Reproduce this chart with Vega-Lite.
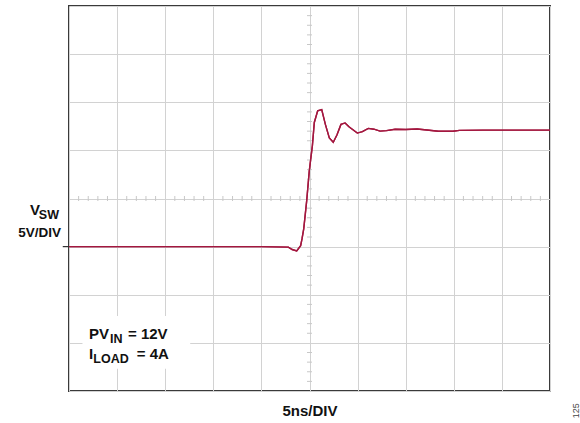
{
  "$schema": "https://vega.github.io/schema/vega-lite/v6.json",
  "width": 481,
  "height": 385,
  "autosize": {"type": "none"},
  "padding": {"left": 69, "top": 6, "right": 30, "bottom": 32},
  "background": "white",
  "config": {
    "view": {"stroke": "#3a3a3a", "strokeWidth": 2},
    "font": "Liberation Sans"
  },
  "datasets": {
    "wave": [
      {"t": 0, "v": 0}, {"t": 10, "v": 0}, {"t": 20, "v": 0}, {"t": 22.8, "v": -0.05},
      {"t": 23.2, "v": -0.3}, {"t": 23.67, "v": -0.45}, {"t": 24.08, "v": 0.1}, {"t": 24.22, "v": 0.8},
      {"t": 24.4, "v": 1.84}, {"t": 24.71, "v": 4.78}, {"t": 24.98, "v": 7.9}, {"t": 25.3, "v": 10.5},
      {"t": 25.5, "v": 12.9}, {"t": 25.85, "v": 14.1}, {"t": 26.27, "v": 14.24}, {"t": 26.65, "v": 12.7},
      {"t": 27.06, "v": 11.3}, {"t": 27.47, "v": 10.85}, {"t": 27.85, "v": 11.6}, {"t": 28.27, "v": 12.7},
      {"t": 28.7, "v": 12.85}, {"t": 29.1, "v": 12.45}, {"t": 29.97, "v": 11.8}, {"t": 30.5, "v": 11.95},
      {"t": 31.11, "v": 12.28}, {"t": 31.7, "v": 12.2}, {"t": 32.33, "v": 12.0}, {"t": 33.0, "v": 12.05},
      {"t": 33.9, "v": 12.2}, {"t": 35.0, "v": 12.17}, {"t": 36.2, "v": 12.22}, {"t": 37.2, "v": 12.12},
      {"t": 38.4, "v": 11.99}, {"t": 39.9, "v": 11.99}, {"t": 40.6, "v": 12.08}, {"t": 43, "v": 12.1},
      {"t": 46, "v": 12.1}, {"t": 50, "v": 12.1}
    ],
    "xticks": [
      {"t": 1}, {"t": 2}, {"t": 3}, {"t": 4}, {"t": 6}, {"t": 7}, {"t": 8}, {"t": 9},
      {"t": 11}, {"t": 12}, {"t": 13}, {"t": 14}, {"t": 16}, {"t": 17}, {"t": 18}, {"t": 19},
      {"t": 21}, {"t": 22}, {"t": 23}, {"t": 24}, {"t": 26}, {"t": 27}, {"t": 28}, {"t": 29},
      {"t": 31}, {"t": 32}, {"t": 33}, {"t": 34}, {"t": 36}, {"t": 37}, {"t": 38}, {"t": 39},
      {"t": 41}, {"t": 42}, {"t": 43}, {"t": 44}, {"t": 46}, {"t": 47}, {"t": 48}, {"t": 49}
    ],
    "yticks": [
      {"v": -14}, {"v": -13}, {"v": -12}, {"v": -11}, {"v": -9}, {"v": -8}, {"v": -7}, {"v": -6},
      {"v": -4}, {"v": -3}, {"v": -2}, {"v": -1}, {"v": 1}, {"v": 2}, {"v": 3}, {"v": 4},
      {"v": 6}, {"v": 7}, {"v": 8}, {"v": 9}, {"v": 11}, {"v": 12}, {"v": 13}, {"v": 14},
      {"v": 16}, {"v": 17}, {"v": 18}, {"v": 19}, {"v": 21}, {"v": 22}, {"v": 23}, {"v": 24}
    ],
    "box": [{"t": 1.4, "t2": 12.6, "v": -7.2, "v2": -12.7}],
    "mainLeft": [
      {"label": "PV", "t": 2.08, "v": -9.56},
      {"label": "= 12V", "t": 6.13, "v": -9.56},
      {"label": "I", "t": 2.08, "v": -11.64},
      {"label": "= 4A", "t": 7.04, "v": -11.64}
    ],
    "subLeft": [
      {"label": "IN", "t": 4.26, "v": -9.98},
      {"label": "LOAD", "t": 2.53, "v": -12.06}
    ],
    "mainRight": [
      {"label": "V", "t": -3.0, "v": 3.33}
    ],
    "yLabel": [
      {"label": "5V/DIV", "t": -0.83, "v": 1.04}
    ],
    "subRight": [
      {"label": "SW", "t": -1.04, "v": 2.85}
    ],
    "note": [{"label": "125", "t": 52.7, "v": -17.05}]
  },
  "layer": [
    {
      "data": {"name": "wave"},
      "mark": {"type": "line", "color": "#a3173f", "strokeWidth": 1.4, "interpolate": "linear"},
      "encoding": {
        "x": {
          "field": "t", "type": "quantitative",
          "scale": {"domain": [0, 50], "nice": false, "zero": false},
          "axis": {
            "values": [0, 5, 10, 15, 20, 25, 30, 35, 40, 45, 50],
            "grid": true, "gridColor": "#d2d2d2", "gridWidth": 1,
            "labels": false, "ticks": false, "domain": false,
            "title": "5ns/DIV", "titleFont": "Liberation Sans", "titleFontWeight": "bold",
            "titleFontSize": 15, "titleColor": "#111", "titlePadding": 12
          }
        },
        "y": {
          "field": "v", "type": "quantitative",
          "scale": {"domain": [-15, 25], "nice": false, "zero": false},
          "axis": {
            "values": [-15, -10, -5, 0, 5, 10, 15, 20, 25],
            "grid": true, "gridColor": "#d2d2d2", "gridWidth": 1,
            "labels": false, "ticks": false, "domain": false, "title": null
          }
        }
      }
    },
    {
      "data": {"name": "box"},
      "mark": {"type": "rect", "color": "white"},
      "encoding": {
        "x": {"field": "t", "type": "quantitative"},
        "x2": {"field": "t2"},
        "y": {"field": "v", "type": "quantitative"},
        "y2": {"field": "v2"}
      }
    },
    {
      "data": {"name": "xticks"},
      "mark": {"type": "rule", "color": "#c8c8c8", "strokeWidth": 1},
      "encoding": {
        "x": {"field": "t", "type": "quantitative"},
        "y": {"datum": 4.74},
        "y2": {"datum": 5.26}
      }
    },
    {
      "data": {"name": "yticks"},
      "mark": {"type": "rule", "color": "#c8c8c8", "strokeWidth": 1},
      "encoding": {
        "y": {"field": "v", "type": "quantitative"},
        "x": {"datum": 24.74},
        "x2": {"datum": 25.26}
      }
    },
    {
      "data": {"values": [{}]},
      "mark": {"type": "rule", "color": "#333", "strokeWidth": 1.2, "clip": false},
      "encoding": {
        "x": {"datum": -0.65},
        "x2": {"datum": 0},
        "y": {"datum": 0}
      }
    },
    {
      "data": {"name": "wave"},
      "mark": {"type": "line", "color": "#a3173f", "strokeWidth": 1.4},
      "encoding": {
        "x": {"field": "t", "type": "quantitative"},
        "y": {"field": "v", "type": "quantitative"}
      }
    },
    {
      "data": {"name": "mainLeft"},
      "mark": {"type": "text", "align": "left", "baseline": "alphabetic", "font": "Liberation Sans", "fontWeight": "bold", "fontSize": 15, "color": "#111", "clip": false},
      "encoding": {
        "x": {"field": "t", "type": "quantitative"},
        "y": {"field": "v", "type": "quantitative"},
        "text": {"field": "label"}
      }
    },
    {
      "data": {"name": "subLeft"},
      "mark": {"type": "text", "align": "left", "baseline": "alphabetic", "font": "Liberation Sans", "fontWeight": "bold", "fontSize": 12.5, "color": "#111", "clip": false},
      "encoding": {
        "x": {"field": "t", "type": "quantitative"},
        "y": {"field": "v", "type": "quantitative"},
        "text": {"field": "label"}
      }
    },
    {
      "data": {"name": "mainRight"},
      "mark": {"type": "text", "align": "right", "baseline": "alphabetic", "font": "Liberation Sans", "fontWeight": "bold", "fontSize": 15, "color": "#111", "clip": false},
      "encoding": {
        "x": {"field": "t", "type": "quantitative"},
        "y": {"field": "v", "type": "quantitative"},
        "text": {"field": "label"}
      }
    },
    {
      "data": {"name": "yLabel"},
      "mark": {"type": "text", "align": "right", "baseline": "alphabetic", "font": "Liberation Sans", "fontWeight": "bold", "fontSize": 13.5, "color": "#111", "clip": false},
      "encoding": {
        "x": {"field": "t", "type": "quantitative"},
        "y": {"field": "v", "type": "quantitative"},
        "text": {"field": "label"}
      }
    },
    {
      "data": {"name": "subRight"},
      "mark": {"type": "text", "align": "right", "baseline": "alphabetic", "font": "Liberation Sans", "fontWeight": "bold", "fontSize": 12.5, "color": "#111", "clip": false},
      "encoding": {
        "x": {"field": "t", "type": "quantitative"},
        "y": {"field": "v", "type": "quantitative"},
        "text": {"field": "label"}
      }
    },
    {
      "data": {"name": "note"},
      "mark": {"type": "text", "align": "center", "baseline": "middle", "angle": 270, "font": "Liberation Sans", "fontSize": 9, "color": "#444", "clip": false},
      "encoding": {
        "x": {"field": "t", "type": "quantitative"},
        "y": {"field": "v", "type": "quantitative"},
        "text": {"field": "label"}
      }
    }
  ]
}
